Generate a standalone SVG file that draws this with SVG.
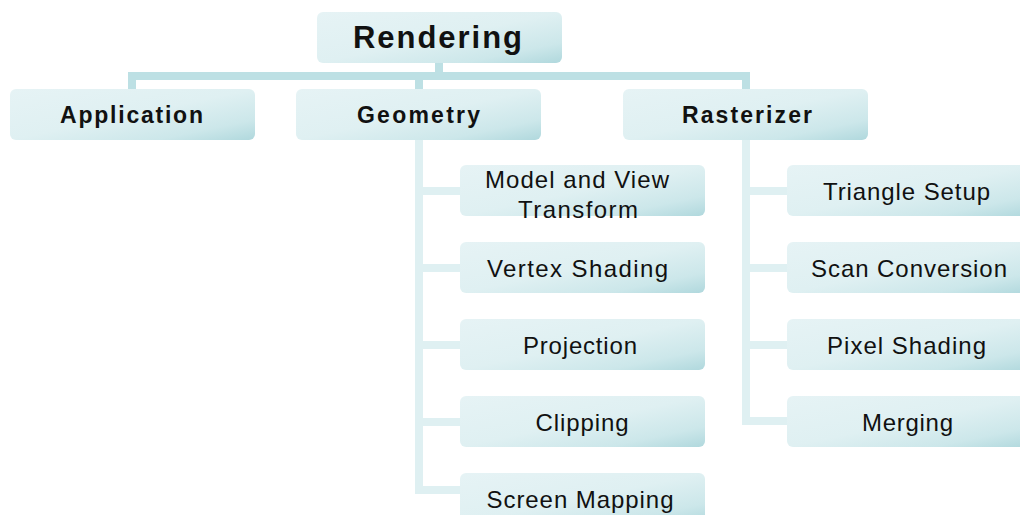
<svg xmlns="http://www.w3.org/2000/svg" width="1020" height="515" viewBox="0 0 1020 515">
  <defs>
    <linearGradient id="boxFill" x1="0" y1="0" x2="1" y2="1">
      <stop offset="0" stop-color="#e6f3f5"/>
      <stop offset="0.5" stop-color="#dff0f2"/>
      <stop offset="0.8" stop-color="#cce7ea"/>
      <stop offset="1" stop-color="#b0d8dd"/>
    </linearGradient>
    <style>
      .box { fill: url(#boxFill); }
      .main { fill: none; stroke: #bde0e4; stroke-width: 8; stroke-linejoin: miter; }
      .sub { fill: none; stroke: #dff0f2; stroke-width: 8; stroke-linejoin: miter; }
      .head { font-family: "Liberation Sans", Arial, sans-serif; font-weight: bold; fill: #111; text-anchor: middle; }
      .item { font-family: "Liberation Sans", Arial, sans-serif; font-size: 24px; fill: #111; text-anchor: middle; }
    </style>
  </defs>
  <rect width="1020" height="515" fill="#ffffff"/>

  <g id="connectors">
    <path class="sub" d="M419,140 V490 H460 M419,191 H460 M419,268 H460 M419,345 H460 M419,422 H460"/>
    <path class="sub" d="M746,140 V421 H787 M746,191 H787 M746,268 H787 M746,345 H787"/>
    <path class="main" d="M132,89 V76 H746 V89 M439,63 V76 M419,76 V89"/>
  </g>

  <g id="rendering">
    <rect class="box" x="317" y="12" width="245" height="51" rx="6"/>
    <text class="head" x="437.5" y="48" font-size="31" textLength="169" lengthAdjust="spacing">Rendering</text>
  </g>
  <g id="application">
    <rect class="box" x="10" y="89" width="245" height="51" rx="6"/>
    <text class="head" x="131.5" y="123" font-size="23" textLength="143" lengthAdjust="spacing">Application</text>
  </g>
  <g id="geometry">
    <rect class="box" x="296" y="89" width="245" height="51" rx="6"/>
    <text class="head" x="418.5" y="123" font-size="23" textLength="123" lengthAdjust="spacing">Geometry</text>
  </g>
  <g id="rasterizer">
    <rect class="box" x="623" y="89" width="245" height="51" rx="6"/>
    <text class="head" x="747" y="123" font-size="23" textLength="130" lengthAdjust="spacing">Rasterizer</text>
  </g>

  <g id="model-view-transform">
    <rect class="box" x="460" y="165" width="245" height="51" rx="6"/>
    <text class="item" x="577" y="188" textLength="184" lengthAdjust="spacing">Model and View</text>
    <text class="item" x="578" y="218" textLength="120" lengthAdjust="spacing">Transform</text>
  </g>
  <g id="vertex-shading">
    <rect class="box" x="460" y="242" width="245" height="51" rx="6"/>
    <text class="item" x="577.5" y="277" textLength="181" lengthAdjust="spacing">Vertex Shading</text>
  </g>
  <g id="projection">
    <rect class="box" x="460" y="319" width="245" height="51" rx="6"/>
    <text class="item" x="580" y="354" textLength="114" lengthAdjust="spacing">Projection</text>
  </g>
  <g id="clipping">
    <rect class="box" x="460" y="396" width="245" height="51" rx="6"/>
    <text class="item" x="582" y="431" textLength="93" lengthAdjust="spacing">Clipping</text>
  </g>
  <g id="screen-mapping">
    <rect class="box" x="460" y="473" width="245" height="51" rx="6"/>
    <text class="item" x="580" y="508" textLength="187" lengthAdjust="spacing">Screen Mapping</text>
  </g>

  <g id="triangle-setup">
    <rect class="box" x="787" y="165" width="245" height="51" rx="6"/>
    <text class="item" x="906.5" y="200" textLength="167" lengthAdjust="spacing">Triangle Setup</text>
  </g>
  <g id="scan-conversion">
    <rect class="box" x="787" y="242" width="245" height="51" rx="6"/>
    <text class="item" x="909" y="277" textLength="196" lengthAdjust="spacing">Scan Conversion</text>
  </g>
  <g id="pixel-shading">
    <rect class="box" x="787" y="319" width="245" height="51" rx="6"/>
    <text class="item" x="906.5" y="354" textLength="159" lengthAdjust="spacing">Pixel Shading</text>
  </g>
  <g id="merging">
    <rect class="box" x="787" y="396" width="245" height="51" rx="6"/>
    <text class="item" x="907.5" y="431" textLength="91" lengthAdjust="spacing">Merging</text>
  </g>
</svg>
